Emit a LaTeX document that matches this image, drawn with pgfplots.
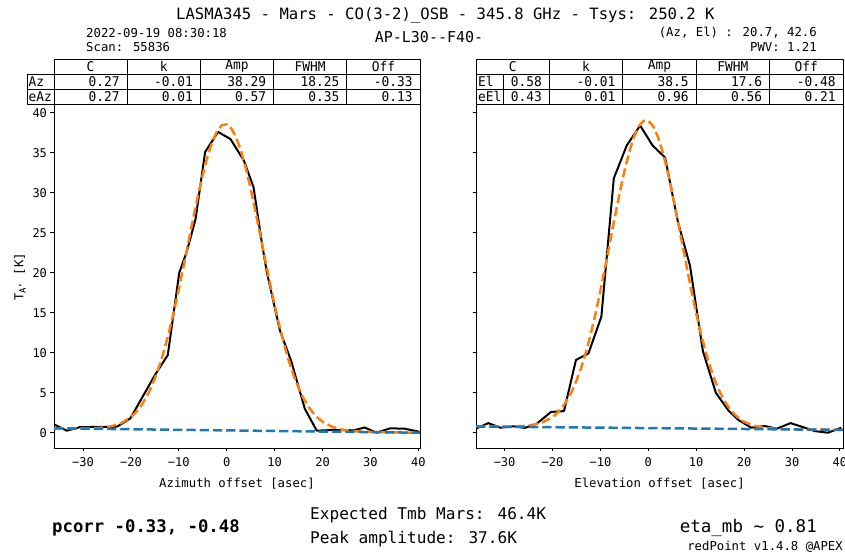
\documentclass[border=0pt]{standalone}
\usepackage{pgfplots}
\pgfplotsset{compat=1.18}
\usepackage{fontspec}
\setmainfont{DejaVu Sans Mono}
\newfontfamily\tbl[FakeStretch=0.96]{DejaVu Sans Mono}
\definecolor{mplorange}{HTML}{FF7F0E}
\definecolor{mplblue}{HTML}{1F77B4}
\newcommand{\TS}{\tbl\fontsize{13.4}{15}\selectfont}
\newcommand{\hc}[3]{\node[inner sep=0pt] at (#1,#2) {\TS #3};}
\newcommand{\dc}[3]{\node[anchor=east,inner sep=0pt] at (#1,#2) {\TS #3};}
\newcommand{\lc}[3]{\node[anchor=west,inner sep=0pt] at (#1,#2) {\TS #3};}

\pgfplotstableread{
x y
-36.0 1.04
-33.4 0.25
-30.6 0.70
-27.6 0.72
-22.9 0.75
-20.1 1.80
-14.9 7.30
-12.3 9.70
-9.9 20.0
-8.3 22.7
-6.5 26.7
-4.5 35.1
-1.8 37.6
0.8 36.7
3.6 34.0
5.6 30.7
7.4 23.5
8.4 20.0
11.1 12.8
13.5 8.9
16.3 3.0
18.8 0.25
22.2 0.35
26.5 0.30
28.8 0.65
31.3 0.00
34.1 0.55
37.2 0.50
40.3 0.10
}\azdata

\pgfplotstableread{
x y
-36 0.55
-32 0.53
-28 0.55
-26 0.63
-24 0.82
-22 1.21
-20 1.96
-19 2.53
-18 3.26
-17 4.20
-16 5.36
-15 6.78
-14 8.47
-13 10.44
-12 12.69
-11 15.21
-10 17.94
-9 20.83
-8 23.81
-7 26.78
-6 29.63
-5 32.26
-4 34.55
-3 36.40
-2 37.72
-1 38.45
0 38.55
1 38.01
2 36.87
3 35.18
4 33.02
5 30.48
6 27.68
7 24.72
8 21.72
9 18.78
10 15.97
11 13.36
12 11.00
13 8.92
14 7.12
15 5.59
16 4.34
17 3.31
18 2.49
19 1.86
20 1.38
22 0.74
24 0.40
26 0.23
28 0.14
30 0.10
34 0.05
38 0.02
41 0.00
}\azfit

\pgfplotstableread{
x y
-36.0 0.50
-33.4 1.20
-30.9 0.63
-28.1 0.80
-25.8 0.60
-23.3 1.13
-20.3 2.60
-17.6 2.70
-15.1 9.10
-12.5 9.90
-9.8 14.5
-7.2 31.8
-4.5 35.9
-1.7 38.4
0.9 35.9
3.5 34.4
6.2 26.3
8.7 20.9
11.4 10.2
14.1 5.0
16.7 2.8
18.8 1.6
21.5 0.63
24.3 0.84
26.8 0.50
29.7 1.20
32.3 0.70
34.8 0.20
37.5 0.00
40.3 0.63
}\eldata

\pgfplotstableread{
x y
-36 0.78
-32 0.76
-28 0.78
-26 0.84
-24 0.99
-22 1.31
-20 1.96
-19 2.47
-18 3.15
-17 4.02
-16 5.12
-15 6.50
-14 8.15
-13 10.12
-12 12.39
-11 14.93
-10 17.74
-9 20.73
-8 23.83
-7 26.93
-6 29.92
-5 32.68
-4 35.06
-3 36.97
-2 38.30
-1 38.99
0 39.00
1 38.33
2 37.00
3 35.11
4 32.72
5 29.98
6 26.98
7 23.87
8 20.76
9 17.75
10 14.93
11 12.35
12 10.06
13 8.07
14 6.39
15 5.00
16 3.87
17 2.98
18 2.29
19 1.76
20 1.37
22 0.87
24 0.63
26 0.51
28 0.45
30 0.42
34 0.39
38 0.37
41 0.35
}\elfit

\pgfplotsset{
  rpstyle/.style={
    scale only axis, anchor=south west,
    height=344pt,
    ymin=-1.91, ymax=41.09,
    axis line style={line width=0.9pt},
    xtick={-30,-20,-10,0,10,20,30,40},
    xticklabels={−30,−20,−10,0,10,20,30,40},
    ytick={0,5,10,15,20,25,30,35,40},
    xtick pos=left, ytick pos=left,
    tick align=outside,
    major tick length=3.5pt,
    tick style={line width=0.9pt, black},
    ticklabel style={font=\fontsize{12}{14}\selectfont},
    xticklabel style={yshift=-3pt},
    xlabel style={font=\fontsize{12.3}{14}\selectfont, yshift=-4pt},
    clip=true,
  },
  dataline/.style={black, line width=2pt, line join=round},
  fitline/.style={mplorange, line width=2.5pt, dash pattern=on 9.25pt off 4pt},
  baseline/.style={mplblue, line width=2.5pt, dash pattern=on 9.25pt off 4pt},
}

\begin{document}
\begin{tikzpicture}[x=1pt,y=1pt]
\useasboundingbox (0,0) rectangle (845,556);

% header texts
\node[anchor=west, inner sep=0pt] at (176,541) {\fontsize{15.6}{17}\selectfont LASMA345 - Mars - CO(3-2)\_OSB - 345.8 GHz - Tsys: 250.2 K};
\node[anchor=west, inner sep=0pt] at (86,523) {\fontsize{12.3}{14}\selectfont 2022-09-19 08:30:18};
\node[anchor=west, inner sep=0pt] at (86,509) {\fontsize{12.3}{14}\selectfont Scan: 55836};
\node[inner sep=0pt] at (429,519) {\fontsize{15}{16}\selectfont AP-L30-{}-F40-};
\node[anchor=east, inner sep=0pt] at (817,523) {\fontsize{12.3}{14}\selectfont (Az, El) : 20.7, 42.6};
\node[anchor=east, inner sep=0pt] at (817,509) {\fontsize{12.3}{14}\selectfont PWV: 1.21};

% left axis
\begin{axis}[rpstyle, at={(54pt,108pt)}, width=366pt,
  xmin=-36.05, xmax=40.35,
  yticklabels={0,5,10,15,20,25,30,35,40},
  xlabel={Azimuth offset [asec]}]
\addplot[dataline] table {\azdata};
\addplot[fitline] table {\azfit};
\addplot[baseline] coordinates {(-36.05,0.55) (40.35,0.0)};
\end{axis}

% right axis
\begin{axis}[rpstyle, at={(476pt,108pt)}, width=367pt,
  xmin=-35.97, xmax=40.65,
  yticklabels={},
  xlabel={Elevation offset [asec]}]
\addplot[dataline] table {\eldata};
\addplot[fitline] table {\elfit};
\addplot[baseline] coordinates {(-35.97,0.78) (40.65,0.35)};
\end{axis}

\node[rotate=90, inner sep=0pt] at (20,279) {\fontsize{12.3}{14}\selectfont T\raisebox{-0.35ex}{\fontsize{9}{10}\selectfont A'} [K]};

% left table
\begin{scope}[line width=0.9pt]
\draw[fill=white] (54,482) rectangle (420,497);
\draw[fill=white] (27,452) rectangle (420,482);
\foreach \xx in {54,127.2,200.4,273.6,346.8} {\draw (\xx,452) -- (\xx,497);}
\draw (27,467) -- (420,467);
\end{scope}
\hc{90.6}{489.5}{C}\hc{163.8}{489.5}{k}\hc{237}{489.5}{Amp}\hc{310.2}{489.5}{FWHM}\hc{383.4}{489.5}{Off}
\lc{28.5}{474.5}{Az}\lc{28.5}{459.5}{eAz}
\dc{119.9}{474.5}{0.27}\dc{193.1}{474.5}{-0.01}\dc{266.3}{474.5}{38.29}\dc{339.5}{474.5}{18.25}\dc{412.7}{474.5}{-0.33}
\dc{119.9}{459.5}{0.27}\dc{193.1}{459.5}{0.01}\dc{266.3}{459.5}{0.57}\dc{339.5}{459.5}{0.35}\dc{412.7}{459.5}{0.13}

% right table
\begin{scope}[line width=0.9pt]
\draw[fill=white] (476,452) rectangle (843,497);
\foreach \xx in {549.4,622.8,696.2,769.6} {\draw (\xx,452) -- (\xx,497);}
\draw (476,482) -- (843,482);
\draw (476,467) -- (843,467);
\draw (503,452) -- (503,482);
\end{scope}
\hc{512.7}{489.5}{C}\hc{586.1}{489.5}{k}\hc{659.5}{489.5}{Amp}\hc{732.9}{489.5}{FWHM}\hc{806.3}{489.5}{Off}
\lc{478}{474.5}{El}\lc{478}{459.5}{eEl}
\dc{542.1}{474.5}{0.58}\dc{615.5}{474.5}{-0.01}\dc{688.9}{474.5}{38.5}\dc{762.3}{474.5}{17.6}\dc{835.7}{474.5}{-0.48}
\dc{542.1}{459.5}{0.43}\dc{615.5}{459.5}{0.01}\dc{688.9}{459.5}{0.96}\dc{762.3}{459.5}{0.56}\dc{835.7}{459.5}{0.21}

% bottom texts
\node[anchor=west, inner sep=0pt] at (52,28) {\fontsize{17.3}{19}\selectfont\bfseries pcorr -0.33, -0.48};
\node[anchor=west, inner sep=0pt] at (310,41) {\fontsize{16.1}{18}\selectfont Expected Tmb Mars: 46.4K};
\node[anchor=west, inner sep=0pt] at (310,17) {\fontsize{16.1}{18}\selectfont Peak amplitude: 37.6K};
\node[anchor=east, inner sep=0pt] at (817,28) {\fontsize{17.5}{19}\selectfont eta\_mb \textasciitilde{} 0.81};
\node[anchor=east, inner sep=0pt] at (843,9) {\fontsize{12.3}{14}\selectfont redPoint v1.4.8 @APEX};
\end{tikzpicture}
\end{document}
